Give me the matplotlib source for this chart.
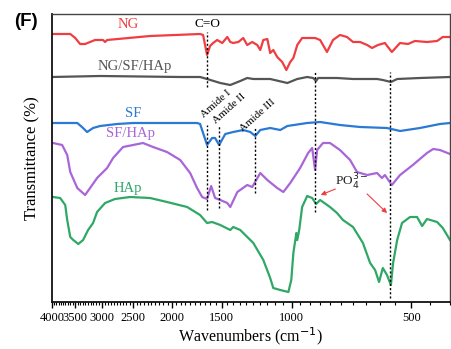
import matplotlib
matplotlib.use("Agg")
import matplotlib.pyplot as plt
from matplotlib.ticker import FixedLocator, NullFormatter, FixedFormatter, NullLocator

# ---------------- data (wavenumber cm-1, offset transmittance a.u.) ----------------
ng_wn = [4000, 3599, 3496, 3400, 3303, 3118, 2978, 2942, 2908, 2268, 1698, 1669, 1650, 1631,
         1603, 1575, 1538, 1494, 1451, 1426, 1402, 1361, 1323, 1293, 1256, 1220, 1199, 1178,
         1151, 1132, 1112, 1087, 1056, 1031, 1008, 990, 968, 941, 909, 873, 848, 815, 787,
         756, 726, 701, 673, 646, 628, 607, 583, 560, 534, 510, 490, 457, 431, 417, 400]
ng_t = [266, 266, 262, 256, 256, 260, 260, 258, 260, 264, 266, 265, 255, 245,
        254, 257, 260, 257, 263, 258, 257, 258, 262, 255, 258, 255, 250, 260,
        261, 247, 250, 243, 238, 230, 238, 242, 255, 262, 262, 262, 260, 248, 260,
        265, 263, 258, 258, 255, 252, 255, 257, 248, 257, 256, 259, 258, 259, 263, 263]

mix_wn = [4000, 3028, 1905, 1698, 1631, 1511, 1426, 1346, 1293, 1248, 1132, 1025, 968, 914,
          883, 868, 858, 769, 701, 610, 590, 563, 543, 476, 400]
mix_t = [223, 224, 223, 223, 221, 217, 215, 219, 222, 221, 221, 217, 221, 223,
         222, 219, 222, 222, 221, 221, 220, 218, 221, 222, 223]

sf_wn = [3977, 3456, 3363, 3265, 3154, 3028, 2745, 2503, 1728, 1698, 1669, 1631, 1584, 1557,
         1521, 1468, 1402, 1323, 1270, 1234, 1199, 1132, 1068, 1025, 914, 848, 756, 673,
         576, 534, 476, 424, 400]
sf_t = [177, 177, 173, 168, 172, 174, 176, 177, 177, 176, 167, 155, 162, 162,
        155, 166, 168, 170, 168, 164, 170, 172, 170, 174, 177, 178, 175, 173,
        172, 169, 172, 176, 177]

sfhap_wn = [3977, 3772, 3663, 3599, 3456, 3303, 3209, 3082, 2908, 2809, 2652, 2503, 2363, 2229,
            2056, 1905, 1799, 1728, 1678, 1631, 1593, 1557, 1511, 1451, 1426, 1369, 1293, 1256,
            1199, 1151, 1087, 1049, 1008, 952, 909, 888, 873, 863, 834, 801, 756, 713, 685,
            646, 610, 593, 583, 560, 534, 496, 457, 441, 424, 400]
sfhap_t = [157, 155, 145, 128, 112, 105, 112, 122, 132, 142, 153, 155, 157, 153,
           148, 140, 127, 112, 103, 101, 114, 102, 100, 97, 93, 108, 115, 113,
           127, 120, 112, 108, 117, 132, 147, 152, 130, 150, 157, 157, 150, 140, 128,
           125, 127, 122, 125, 115, 125, 135, 147, 151, 150, 146]

hap_wn = [3977, 3816, 3705, 3663, 3599, 3537, 3436, 3341, 3246, 3154, 3082, 2942, 2779, 2547,
          2268, 2056, 1830, 1698, 1631, 1584, 1511, 1426, 1402, 1346, 1248, 1178, 1132, 1112,
          1068, 1019, 1002, 990, 973, 968, 957, 941, 914, 888, 868, 848, 801, 769, 743, 701,
          662, 635, 617, 603, 590, 576, 563, 556, 543, 528, 504, 484, 470, 457, 431, 417, 400]
hap_t = [103, 102, 95, 80, 63, 60, 56, 60, 70, 77, 88, 97, 101, 103,
         102, 98, 93, 85, 77, 78, 75, 70, 73, 70, 57, 40, 22, 12,
         10, 8, 20, 47, 67, 60, 70, 93, 104, 102, 96, 100, 93, 87, 80, 73,
         57, 37, 30, 18, 32, 25, 15, 37, 60, 77, 83, 83, 74, 81, 78, 72, 60]

marker_wn = [1630, 1630, 1520, 1235, 875, 565]
marker_lo = [213, 90, 92, 107, 88, 2]
marker_hi = [268, 175, 175, 173, 228, 228]

x_major = [4000, 3500, 3000, 2500, 2000, 1500, 1000, 500]
x_major_labels = ["4000", "3500", "3000", "2500", "2000", "1500", "1000", "500"]

series_names = ["NG", "NG/SF/HAp", "SF", "SF/HAp", "HAp"]
colors = ["#ef3e42", "#555555", "#2a7ad5", "#a866d8", "#2fa866"]

# ---------------- figure ----------------
fig = plt.figure(figsize=(4.51, 3.49), dpi=100)
ax = fig.add_axes([0.1153, 0.1355, 0.8825, 0.8244])
ax.set_xscale("log")
ax.set_xlim(4000, 400)
ax.set_ylim(-1.7, 286)

serif = "Liberation Serif"
for wn, t, c in zip([ng_wn, mix_wn, sf_wn, sfhap_wn, hap_wn],
                    [ng_t, mix_t, sf_t, sfhap_t, hap_t], colors):
    ax.plot(wn, t, color=c, lw=1.6, solid_joinstyle="round")

for w, lo, hi in zip(marker_wn, marker_lo, marker_hi):
    ax.plot([w, w], [lo, hi], color="black", lw=1.0, ls=(0, (1.5, 1.5)))

# series labels
label_pos = [(2576, 275), (2475, 233), (2503, 187), (2533, 167), (2576, 112)]
for name, (x, y), c in zip(series_names, label_pos, colors):
    ax.text(x, y, name, color=c, fontsize=10.5, family=serif, ha="center", va="center")

ax.text(1630, 276, "C=O", color="black", fontsize=9.5, family=serif, ha="center", va="center")

amide_names = ["Amide I", "Amide II", "Amide III"]
amide_pos = [(1549, 196), (1437, 191), (1215, 185)]
for name, (x, y) in zip(amide_names, amide_pos):
    ax.text(x, y, name, color="black", fontsize=8, family=serif, rotation=42,
            ha="center", va="center", rotation_mode="anchor")

ax.text(705, 118, "PO$_4^{3-}$", color="#222222",
        fontsize=9.5, family=serif, ha="center", va="center")
ax.annotate("", xy=(858, 104), xytext=(765, 112),
            arrowprops=dict(arrowstyle="-|>", color="#ef3e42", lw=0.8, mutation_scale=7))
ax.annotate("", xy=(569, 85), xytext=(654, 108),
            arrowprops=dict(arrowstyle="-|>", color="#ef3e42", lw=0.8, mutation_scale=7))

# axes styling
ax.xaxis.set_major_locator(FixedLocator(x_major))
ax.xaxis.set_major_formatter(FixedFormatter(x_major_labels))
minor = [v for v in range(400, 4001, 50) if v not in x_major]
ax.xaxis.set_minor_locator(FixedLocator(minor))
ax.xaxis.set_minor_formatter(NullFormatter())
ax.tick_params(axis="x", which="major", direction="out", length=4.5, width=1.0,
               labelsize=9, pad=3)
ax.tick_params(axis="x", which="minor", direction="out", length=2.2, width=0.8)
for lab in ax.get_xticklabels():
    lab.set_family(serif)
ax.yaxis.set_major_locator(NullLocator())
ax.yaxis.set_minor_locator(NullLocator())

for s in ["left", "bottom"]:
    ax.spines[s].set_color("#111111")
    ax.spines[s].set_linewidth(1.3)
for s in ["top", "right"]:
    ax.spines[s].set_color("#444444")
    ax.spines[s].set_linewidth(1.0)

ax.set_xlabel("Wavenumbers (cm$^{-1}$)", fontsize=11.5, family=serif, labelpad=1)
ax.set_ylabel("Transmittance (%)", fontsize=12, family=serif, labelpad=8)

fig.text(0.058, 0.937, "(F)", fontsize=13.5, fontweight="bold", family="Liberation Sans",
         ha="center", va="center")

fig.savefig("out.png", dpi=100)
